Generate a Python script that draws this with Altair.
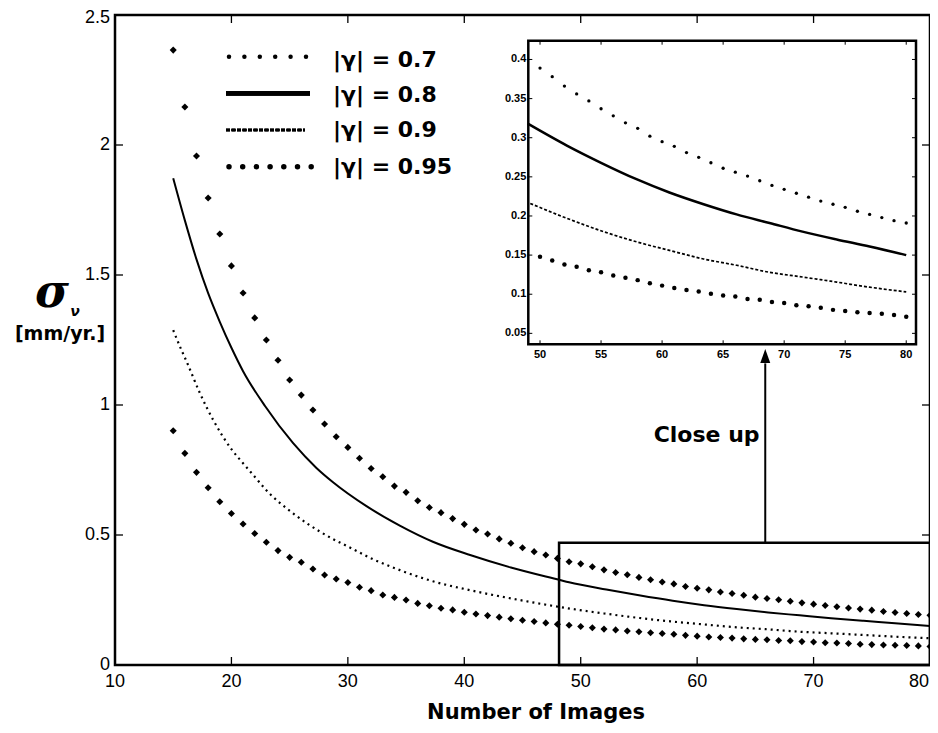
import altair as alt
import pandas as pd

# ---------------- data ----------------
x_dots = list(range(15, 81))
# |gamma| = 0.7 (upper diamonds)
g07 = [2.365, 2.146, 1.958, 1.796, 1.658, 1.535, 1.431, 1.335, 1.250, 1.172,
       1.096, 1.038, 0.981, 0.927, 0.878, 0.837, 0.795, 0.756, 0.724, 0.688,
       0.664, 0.632, 0.606, 0.586, 0.563, 0.541, 0.519, 0.504, 0.485, 0.468,
       0.451, 0.436, 0.423, 0.410, 0.397, 0.389, 0.378, 0.366, 0.356, 0.347,
       0.337, 0.328, 0.319, 0.312, 0.302, 0.295, 0.289, 0.281, 0.275, 0.268,
       0.261, 0.256, 0.251, 0.245, 0.239, 0.234, 0.229, 0.224, 0.219, 0.215,
       0.211, 0.206, 0.202, 0.198, 0.194, 0.191]
# |gamma| = 0.95 (lower diamonds)
g095 = [0.901, 0.814, 0.741, 0.682, 0.628, 0.583, 0.542, 0.506, 0.472, 0.440,
        0.414, 0.395, 0.369, 0.346, 0.331, 0.317, 0.299, 0.286, 0.269, 0.260,
        0.250, 0.237, 0.228, 0.218, 0.212, 0.203, 0.196, 0.190, 0.184, 0.178,
        0.172, 0.167, 0.162, 0.157, 0.153, 0.148, 0.143, 0.138, 0.135, 0.1305,
        0.128, 0.124, 0.121, 0.118, 0.114, 0.111, 0.108, 0.1055, 0.1035, 0.1006,
        0.0985, 0.097, 0.094, 0.093, 0.090, 0.0887, 0.0858, 0.0845, 0.0828, 0.080,
        0.0785, 0.077, 0.076, 0.075, 0.0735, 0.0713]
# |gamma| = 0.8 (solid)
x08 = [15, 16, 17, 18, 19, 20, 21, 22.9, 25.3, 27.3, 28.7, 31.6, 34.5, 37.3, 40.5,
       44, 48.2, 49.0, 52.2, 55, 57.9, 60.6, 63.4, 66.1, 68.8, 71.5, 74.3, 77.0, 80]
g08 = [1.872, 1.71, 1.56, 1.43, 1.32, 1.22, 1.13, 0.995, 0.853, 0.758, 0.704, 0.611,
       0.535, 0.474, 0.423, 0.375, 0.327, 0.318, 0.290, 0.268, 0.247, 0.230, 0.215,
       0.202, 0.191, 0.180, 0.170, 0.161, 0.150]
# |gamma| = 0.9 (dotted)
x09 = [15, 15.7, 16.15, 17.3, 18.44, 20.0, 21.0, 22.0, 23.0, 25.3, 27.6, 28.74, 29.9,
       32.2, 34.46, 37.3, 40.47, 44.5, 49.2, 52.2, 55.2, 57.9, 60.6, 63.4, 66.1, 68.8,
       71.5, 74.3, 77.0, 80]
g09 = [1.288, 1.212, 1.167, 1.045, 0.942, 0.830, 0.776, 0.724, 0.672, 0.583, 0.513,
       0.484, 0.458, 0.406, 0.365, 0.322, 0.288, 0.252, 0.216, 0.197, 0.180, 0.167,
       0.156, 0.145, 0.137, 0.128, 0.122, 0.1155, 0.109, 0.103]

legend_labels = ["|γ| = 0.7", "|γ| = 0.8", "|γ| = 0.9", "|γ| = 0.95"]
x_ticks = [10, 20, 30, 40, 50, 60, 70, 80]
y_ticks = [0, 0.5, 1, 1.5, 2, 2.5]
y_tick_labels = ["0", "0.5", "1", "1.5", "2", "2.5"]
in_x_ticks = [50, 55, 60, 65, 70, 75, 80]
in_y_ticks = [0.05, 0.1, 0.15, 0.2, 0.25, 0.3, 0.35, 0.4]
in_y_labels = ["0.05", "0.1", "0.15", "0.2", "0.25", "0.3", "0.35", "0.4"]

# close-up box, in data units of the main plot
box_x = [48.14, 80]
box_y = [0, 0.47]
arrow_x = 65.85

# ---------------- layout ----------------
W, H = 815, 650
PAD_L, PAD_T = 107, 7
FONT_R = "Liberation Sans"
FONT_B = "DejaVu Sans"


def px(xpage):
    return xpage - 8 - PAD_L


def py(ypage):
    return ypage - 8 - PAD_T


IN_XDOM = [49.04, 80.8]
IN_YDOM = [0.036, 0.424]
IN_XR = [px(528.3), px(916)]
IN_YR = [py(344.3), py(40.7)]

dots = pd.DataFrame({"x": x_dots, "g07": g07, "g095": g095})
df08 = pd.DataFrame({"x": x08, "y": g08})
df09 = pd.DataFrame({"x": x09, "y": g09})

mx = alt.Scale(domain=[10, 80], nice=False, zero=False)
my = alt.Scale(domain=[0, 2.5], nice=False, zero=False)

top_pts = alt.Chart(dots).mark_point(shape="diamond", filled=True, size=50, color="black", opacity=1).encode(
    x=alt.X("x:Q", scale=mx, axis=None),
    y=alt.Y("g07:Q", scale=my, axis=None))
bot_pts = alt.Chart(dots).mark_point(shape="diamond", filled=True, size=50, color="black", opacity=1).encode(
    x=alt.X("x:Q", scale=mx, axis=None),
    y=alt.Y("g095:Q", scale=my, axis=None))
solid = alt.Chart(df08).mark_line(color="black", strokeWidth=2, interpolate="monotone").encode(
    x=alt.X("x:Q", scale=mx, axis=None), y=alt.Y("y:Q", scale=my, axis=None))
dotted = alt.Chart(df09).mark_line(color="black", strokeWidth=2.2, strokeDash=[2, 4],
                                   interpolate="monotone").encode(
    x=alt.X("x:Q", scale=mx, axis=None), y=alt.Y("y:Q", scale=my, axis=None))

box_df = pd.DataFrame({"x": [box_x[0]], "x2": [box_x[1]], "y": [box_y[0]], "y2": [box_y[1]]})
box = alt.Chart(box_df).mark_rect(fillOpacity=0, stroke="black", strokeWidth=2.5).encode(
    x=alt.X("x:Q", scale=mx, axis=None), x2="x2:Q",
    y=alt.Y("y:Q", scale=my, axis=None), y2="y2:Q")
arrow_df = pd.DataFrame({"x": [arrow_x], "y": [box_y[1]], "y2": [1.16], "yh": [1.188],
                         "tx": [65.36], "ty": [0.885], "t": ["Close up"]})
arrow = alt.Chart(arrow_df).mark_rule(color="black", strokeWidth=2).encode(
    x=alt.X("x:Q", scale=mx, axis=None), y=alt.Y("y:Q", scale=my, axis=None), y2="y2:Q")
head = alt.Chart(arrow_df).mark_point(shape="M-1,1.4L0,-1.4L1,1.4Z", filled=True, size=100,
                                      color="black", opacity=1).encode(
    x=alt.X("x:Q", scale=mx, axis=None), y=alt.Y("yh:Q", scale=my, axis=None))
close_txt = alt.Chart(arrow_df).mark_text(align="right", baseline="middle", font=FONT_B,
                                          fontWeight="bold", fontSize=22, color="black").encode(
    x=alt.X("tx:Q", scale=mx, axis=None), y=alt.Y("ty:Q", scale=my, axis=None), text="t:N")

# tick labels and inward ticks on the main frame
xlab = pd.DataFrame({"v": x_ticks, "lab": [str(v) for v in x_ticks]})
ylab = pd.DataFrame({"v": y_ticks, "lab": y_tick_labels})
xl = alt.Chart(xlab.iloc[:-1]).mark_text(font=FONT_R, fontSize=18, color="black", align="center",
                                         baseline="middle").encode(
    x=alt.X("v:Q", scale=mx, axis=None), y=alt.value(H + 17), text="lab:N")
xl_last = alt.Chart(xlab.iloc[-1:]).mark_text(font=FONT_R, fontSize=18, color="black", align="right",
                                              baseline="middle", dx=-1).encode(
    x=alt.X("v:Q", scale=mx, axis=None), y=alt.value(H + 17), text="lab:N")
yl = alt.Chart(ylab.iloc[:-1]).mark_text(font=FONT_R, fontSize=18, color="black", align="right",
                                         baseline="middle").encode(
    y=alt.Y("v:Q", scale=my, axis=None), x=alt.value(-5), text="lab:N")
yl_top = alt.Chart(ylab.iloc[-1:]).mark_text(font=FONT_R, fontSize=18, color="black", align="right",
                                             baseline="middle", dy=3).encode(
    y=alt.Y("v:Q", scale=my, axis=None), x=alt.value(-5), text="lab:N")
xt = pd.DataFrame({"v": x_ticks[1:-1]})
yt = pd.DataFrame({"v": y_ticks[1:-1]})
tb = alt.Chart(xt).mark_rule(color="black", strokeWidth=1.3).encode(
    x=alt.X("v:Q", scale=mx, axis=None), y=alt.value(H), y2=alt.value(H - 8))
tt = alt.Chart(xt).mark_rule(color="black", strokeWidth=1.3).encode(
    x=alt.X("v:Q", scale=mx, axis=None), y=alt.value(0), y2=alt.value(8))
tl = alt.Chart(yt).mark_rule(color="black", strokeWidth=1.3).encode(
    y=alt.Y("v:Q", scale=my, axis=None), x=alt.value(0), x2=alt.value(8))
tr = alt.Chart(yt).mark_rule(color="black", strokeWidth=1.3).encode(
    y=alt.Y("v:Q", scale=my, axis=None), x=alt.value(W), x2=alt.value(W - 8))

main = alt.layer(top_pts, bot_pts, solid, dotted, box, arrow, head, close_txt,
                 xl, xl_last, yl, yl_top, tb, tt, tl, tr)

# ---------------- inset ----------------
ix = alt.Scale(domain=IN_XDOM, range=IN_XR, nice=False, zero=False)
iy = alt.Scale(domain=IN_YDOM, range=IN_YR, nice=False, zero=False)
frame_df = pd.DataFrame({"x": [IN_XDOM[0]], "x2": [IN_XDOM[1]], "y": [IN_YDOM[0]], "y2": [IN_YDOM[1]]})
frame = alt.Chart(frame_df).mark_rect(fill="white", stroke="black", strokeWidth=2.5).encode(
    x=alt.X("x:Q", scale=ix, axis=None), x2="x2:Q",
    y=alt.Y("y:Q", scale=iy, axis=None), y2="y2:Q")
idots = dots[dots["x"] >= 50]
i07 = alt.Chart(idots).mark_circle(size=11, color="black", opacity=1).encode(
    x=alt.X("x:Q", scale=ix, axis=None), y=alt.Y("g07:Q", scale=iy, axis=None))
i095 = alt.Chart(idots).mark_circle(size=20, color="black", opacity=1).encode(
    x=alt.X("x:Q", scale=ix, axis=None), y=alt.Y("g095:Q", scale=iy, axis=None))
i08 = alt.Chart(df08[df08["x"] >= 49]).mark_line(color="black", strokeWidth=2.5,
                                                  interpolate="monotone").encode(
    x=alt.X("x:Q", scale=ix, axis=None), y=alt.Y("y:Q", scale=iy, axis=None))
i09 = alt.Chart(df09[df09["x"] >= 49]).mark_line(color="black", strokeWidth=1.7, strokeDash=[3, 2],
                                                  interpolate="monotone").encode(
    x=alt.X("x:Q", scale=ix, axis=None), y=alt.Y("y:Q", scale=iy, axis=None))
ixt = pd.DataFrame({"v": in_x_ticks, "lab": [str(v) for v in in_x_ticks]})
iyt = pd.DataFrame({"v": in_y_ticks, "lab": in_y_labels})
itb = alt.Chart(ixt).mark_rule(color="black", strokeWidth=1).encode(
    x=alt.X("v:Q", scale=ix, axis=None), y=alt.value(IN_YR[0]), y2=alt.value(IN_YR[0] - 4))
itt = alt.Chart(ixt).mark_rule(color="black", strokeWidth=1).encode(
    x=alt.X("v:Q", scale=ix, axis=None), y=alt.value(IN_YR[1]), y2=alt.value(IN_YR[1] + 4))
itl = alt.Chart(iyt).mark_rule(color="black", strokeWidth=1).encode(
    y=alt.Y("v:Q", scale=iy, axis=None), x=alt.value(IN_XR[0]), x2=alt.value(IN_XR[0] + 4))
itr = alt.Chart(iyt).mark_rule(color="black", strokeWidth=1).encode(
    y=alt.Y("v:Q", scale=iy, axis=None), x=alt.value(IN_XR[1]), x2=alt.value(IN_XR[1] - 4))
ixl = alt.Chart(ixt).mark_text(baseline="middle", align="center", font=FONT_R, fontWeight="bold",
                               fontSize=11, color="black").encode(
    x=alt.X("v:Q", scale=ix, axis=None), y=alt.value(IN_YR[0] + 11), text="lab:N")
iyl = alt.Chart(iyt).mark_text(baseline="middle", align="right", font=FONT_R, fontWeight="bold",
                               fontSize=11, color="black").encode(
    y=alt.Y("v:Q", scale=iy, axis=None), x=alt.value(IN_XR[0] - 2), text="lab:N")
inset = alt.layer(frame, i07, i095, i08, i09, itb, itt, itl, itr, ixl, iyl)

# ---------------- legend ----------------
leg1 = pd.DataFrame({"px": [px(229) + i * 15.4 for i in range(6)], "py": [py(56.7)] * 6})
leg4 = pd.DataFrame({"px": [px(229) + i * 13.7 for i in range(7)], "py": [py(166.7)] * 7})
legt = pd.DataFrame({"lab": legend_labels, "py": [py(60), py(95), py(130), py(167)]})
l1 = alt.Chart(leg1).mark_circle(size=20, color="black", opacity=1).encode(
    x=alt.X("px:Q", scale=None, axis=None), y=alt.Y("py:Q", scale=None, axis=None))
l4 = alt.Chart(leg4).mark_circle(size=30, color="black", opacity=1).encode(
    x=alt.X("px:Q", scale=None, axis=None), y=alt.Y("py:Q", scale=None, axis=None))
l2 = alt.Chart(legt).mark_rule(color="black", strokeWidth=4.5).encode(
    x=alt.value(px(226)), x2=alt.value(px(310)), y=alt.value(py(93.3)))
l3 = alt.Chart(legt).mark_rule(color="black", strokeWidth=2.5, strokeDash=[4, 1.5]).encode(
    x=alt.value(px(226)), x2=alt.value(px(305)), y=alt.value(py(130)))
ltxt = alt.Chart(legt).mark_text(align="left", baseline="middle", font=FONT_B, fontWeight="bold",
                                 fontSize=22, color="black").encode(
    x=alt.value(px(333)), y=alt.Y("py:Q", scale=None, axis=None), text="lab:N")
legend = alt.layer(l1, l4, l2, l3, ltxt)

# ---------------- axis titles ----------------
one = pd.DataFrame({"a": [0]})
xtitle = alt.Chart(one).mark_text(text="Number of Images", font=FONT_B, fontWeight="bold", fontSize=21,
                                  color="black", align="center", baseline="middle").encode(
    x=alt.value(px(536)), y=alt.value(py(713)))
sig = alt.Chart(one).mark_text(text="σ", font="DejaVu Serif", fontStyle="italic", fontWeight="bold",
                               fontSize=46, color="black", align="center", baseline="alphabetic").encode(
    x=alt.value(px(52)), y=alt.value(py(307)))
nu = alt.Chart(one).mark_text(text="ν", font="DejaVu Sans", fontStyle="italic", fontWeight="bold",
                              fontSize=14, color="black", align="center", baseline="middle").encode(
    x=alt.value(px(75)), y=alt.value(py(312)))
unit = alt.Chart(one).mark_text(text="[mm/yr.]", font=FONT_B, fontWeight="bold", fontSize=19,
                                color="black", align="center", baseline="middle").encode(
    x=alt.value(px(60)), y=alt.value(py(334)))
titles = alt.layer(xtitle, sig, nu, unit)

chart = alt.layer(main, inset, legend, titles).resolve_scale(
    x="independent", y="independent"
).properties(
    width=W, height=H,
    padding={"left": PAD_L, "top": PAD_T, "right": 0, "bottom": 61},
    autosize=alt.AutoSizeParams(type="none"),
).configure(background="white").configure_view(stroke="black", strokeWidth=2.5)

chart.save("out.html", embed_options={"renderer": "svg", "actions": False})
